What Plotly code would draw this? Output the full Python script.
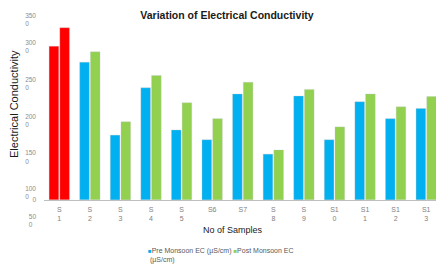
import plotly.graph_objects as go

# ---- data ----
samples = ["S1", "S2", "S3", "S4", "S5", "S6", "S7", "S8", "S9", "S10", "S11", "S12", "S13"]
sample_tick_labels = ["S<br>1", "S<br>2", "S<br>3", "S<br>4", "S<br>5", "S6", "S7", "S<br>8",
                      "S<br>9", "S1<br>0", "S1<br>1", "S1<br>2", "S1<br>3"]
pre_monsoon_ec = [2990, 2680, 1260, 2180, 1360, 1170, 2060, 890, 2020, 1170, 1910, 1580, 1780]
post_monsoon_ec = [3350, 2880, 1520, 2420, 1890, 1580, 2290, 970, 2150, 1420, 2060, 1810, 2010]
highlight_sample = "S1"

# tick labels as they appear (wrapped) in the source image
y_tick_values = [3500, 2980, 2264, 1535, 834, 140, 0, -401]
NB = "\u00a0"
y_tick_labels = ["350<br>0" + NB * 4, "300<br>0" + NB * 4, "250<br>0" + NB * 4, "200<br>0" + NB * 4,
                 "150<br>0" + NB * 4, "100<br>0" + NB * 4, "0", "50<br>0" + NB * 2]

# ---- style ----
BLUE, GREEN, RED = "#00b0f0", "#92d050", "#ff0000"
SANS = "Liberation Sans, Arial, sans-serif"
W, H = 436, 267
ML, MR, MT, MB = 44, 0, 18, 44
PW, PH = W - ML - MR, H - MT - MB
Y_MIN, Y_MAX = -450, 3539

def px_x(px):
    return (px - ML) / PW

def px_y(py):
    return (H - MB - py) / PH

pre_colors = [RED if s == highlight_sample else BLUE for s in samples]
post_colors = [RED if s == highlight_sample else GREEN for s in samples]
edge = dict(color="rgba(200,200,200,0.55)", width=0.6)

fig = go.Figure()
fig.add_trace(go.Bar(x=samples, y=pre_monsoon_ec, name="Pre Monsoon EC (µS/cm)",
                     marker=dict(color=pre_colors, line=edge), showlegend=False))
fig.add_trace(go.Bar(x=samples, y=post_monsoon_ec, name="Post Monsoon EC (µS/cm)",
                     marker=dict(color=post_colors, line=edge), showlegend=False))

fig.update_layout(
    width=W, height=H,
    margin=dict(l=ML, r=MR, t=MT, b=MB, pad=0),
    paper_bgcolor="white", plot_bgcolor="white",
    barmode="group", bargap=0.3, bargroupgap=0.1,
    title=dict(text="<b>Variation of Electrical Conductivity</b>",
               x=227 / W, xanchor="center", y=1 - 15 / H, yanchor="middle",
               font=dict(family=SANS, size=10.5, color="#1a1a1a")),
    xaxis=dict(type="category", range=[-0.5, 12.32],
               tickmode="array", tickvals=samples, ticktext=sample_tick_labels,
               tickfont=dict(family=SANS, size=7, color="#808080"),
               showline=True, linecolor="#bfbfbf", linewidth=1,
               showgrid=False, zeroline=False, ticks="", ticklabelstandoff=3,
               anchor="free", position=(0 - Y_MIN) / (Y_MAX - Y_MIN), automargin=False),
    yaxis=dict(range=[Y_MIN, Y_MAX], tickmode="array", tickvals=y_tick_values,
               ticktext=y_tick_labels, tickfont=dict(family=SANS, size=6.5, color="#8c8c8c"),
               showgrid=False, zeroline=False, showline=False, ticks="",
               ticklabelstandoff=7, automargin=False),
    showlegend=False,
)

legend_text = (f"<span style='color:{BLUE};font-size:6px'>■</span>Pre Monsoon EC (µS/cm) "
               f"<span style='color:{GREEN};font-size:6px'>■</span>Post Monsoon EC<br>"
               f"{NB}(µS/cm)")
fig.add_annotation(text=legend_text, xref="paper", yref="paper",
                   x=px_x(146), y=px_y(245), xanchor="left", yanchor="top", align="left",
                   showarrow=False, font=dict(family=SANS, size=7, color="#595959"))
fig.add_annotation(text="No of Samples", xref="paper", yref="paper",
                   x=px_x(233), y=px_y(230), xanchor="center", yanchor="middle",
                   showarrow=False, font=dict(family=SANS, size=9, color="#1a1a1a"))
fig.add_annotation(text="Electrical Conductivity", xref="paper", yref="paper",
                   x=px_x(14), y=px_y(104), xanchor="center", yanchor="middle", textangle=-90,
                   showarrow=False, font=dict(family=SANS, size=11, color="#1a1a1a"))

fig.write_html("out.html", config={"displayModeBar": False},
               post_script="document.body.style.margin='0';")
